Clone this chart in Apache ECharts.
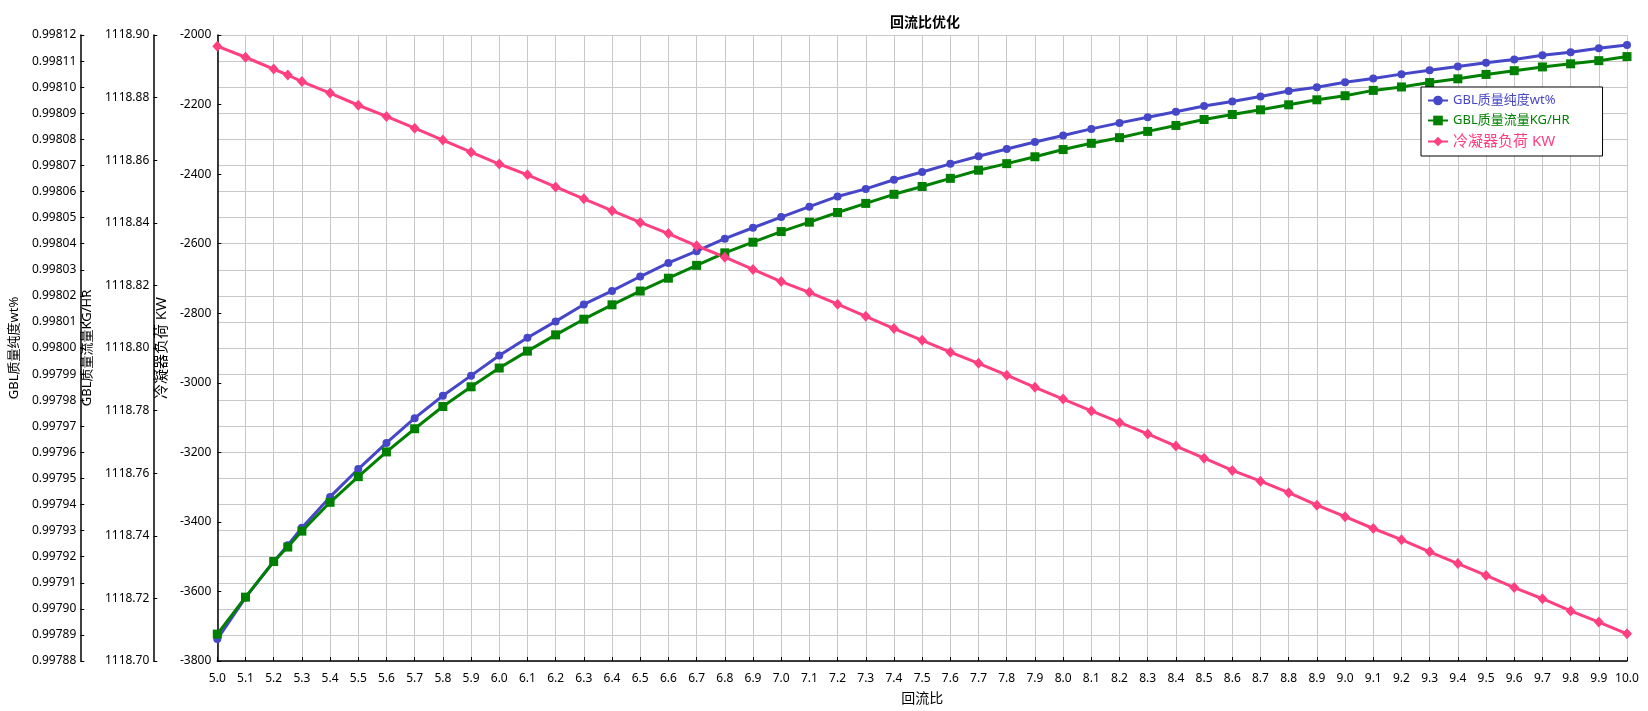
<!DOCTYPE html>
<html>
<head>
<meta charset="utf-8">
<script src="https://cdn.jsdelivr.net/npm/echarts@6/dist/echarts.min.js"></script>
<style>
html,body{margin:0;padding:0;background:#fff;}
#chart{width:1648px;height:711px;}
</style>
</head>
<body>
<div id="chart"></div>
<script>
const refluxRatio = [5.0,5.1,5.2,5.25,5.3,5.4,5.5,5.6,5.7,5.8,5.9,6.0,6.1,6.2,6.3,6.4,6.5,6.6,6.7,6.8,6.9,7.0,7.1,7.2,7.3,7.4,7.5,7.6,7.7,7.8,7.9,8.0,8.1,8.2,8.3,8.4,8.5,8.6,8.7,8.8,8.9,9.0,9.1,9.2,9.3,9.4,9.5,9.6,9.7,9.8,9.9,10.0];
const purity = [0.9978884,0.9979043,0.9979181,0.9979244,0.9979311,0.9979429,0.9979536,0.9979636,0.9979731,0.9979817,0.9979894,0.9979971,0.9980039,0.9980102,0.9980167,0.9980219,0.9980274,0.9980326,0.9980371,0.9980419,0.9980461,0.9980502,0.9980542,0.9980581,0.9980610,0.9980645,0.9980675,0.9980706,0.9980735,0.9980763,0.9980790,0.9980815,0.9980840,0.9980863,0.9980885,0.9980906,0.9980928,0.9980945,0.9980964,0.9980985,0.9981000,0.9981019,0.9981033,0.9981050,0.9981065,0.9981079,0.9981094,0.9981106,0.9981122,0.9981134,0.9981149,0.9981162];
const massFlow = [1118.7086,1118.7204,1118.7318,1118.7364,1118.7415,1118.7507,1118.7589,1118.7668,1118.7742,1118.7813,1118.7876,1118.7936,1118.7990,1118.8042,1118.8092,1118.8138,1118.8182,1118.8223,1118.8264,1118.8304,1118.8338,1118.8372,1118.8402,1118.8433,1118.8462,1118.8491,1118.8516,1118.8542,1118.8568,1118.8589,1118.8611,1118.8634,1118.8654,1118.8672,1118.8692,1118.8711,1118.8730,1118.8746,1118.8761,1118.8777,1118.8793,1118.8806,1118.8823,1118.8834,1118.8848,1118.8860,1118.8874,1118.8886,1118.8898,1118.8908,1118.8918,1118.8931];
const condenserDuty = [-2032,-2064,-2098,-2115,-2134,-2167,-2202,-2234,-2268,-2302,-2337,-2371,-2402,-2437,-2471,-2505,-2539,-2571,-2606,-2639,-2674,-2709,-2740,-2774,-2809,-2844,-2878,-2912,-2944,-2978,-3013,-3047,-3081,-3114,-3147,-3182,-3217,-3252,-3283,-3316,-3352,-3385,-3419,-3451,-3486,-3520,-3554,-3589,-3621,-3656,-3688,-3722];
const seriesNames = ['GBL质量纯度wt%','GBL质量流量KG/HR','冷凝器负荷 KW'];
const colors = ['#4646C8','#008000','#FF4080'];

const pair = arr => refluxRatio.map((x,i)=>[x,arr[i]]);
const FONT = "'Noto Sans','Noto Sans CJK SC',sans-serif";
const chart = echarts.init(document.getElementById('chart'));
chart.setOption({
  animation:false,
  backgroundColor:'#fff',
  textStyle:{fontFamily:FONT},
  title:{text:'回流比优化',left:920,top:11,textAlign:'center',
    textStyle:{fontSize:14,fontWeight:'bold',color:'#000',fontFamily:FONT}},
  grid:{left:214,right:21,top:35,bottom:48,containLabel:false},
  legend:{
    orient:'vertical',left:1421,top:87,
    backgroundColor:'#fff',borderColor:'#000',borderWidth:1,borderRadius:0,
    padding:[7,33,7,6],itemGap:7,itemWidth:20,itemHeight:12,
    data:[
      {name:seriesNames[0],textStyle:{color:colors[0],fontSize:13}},
      {name:seriesNames[1],textStyle:{color:colors[1],fontSize:13}},
      {name:seriesNames[2],textStyle:{color:colors[2],fontSize:15}}
    ]
  },
  xAxis:{
    type:'value',min:5,max:10,interval:0.1,
    name:'回流比',nameLocation:'middle',nameGap:31,
    nameTextStyle:{fontSize:14,color:'#000'},
    axisLine:{show:true,lineStyle:{color:'#000',width:1.5}},
    axisTick:{show:true,inside:true,length:4,lineStyle:{color:'#000'}},
    axisLabel:{color:'#000',fontSize:12,margin:12,formatter:v=>v.toFixed(1)},
    splitLine:{show:true,lineStyle:{color:'#c8c8c8',width:1}}
  },
  yAxis:[
    {
      type:'value',position:'left',offset:137,min:0.99788,max:0.99812,interval:0.00001,
      name:seriesNames[0],nameLocation:'middle',nameGap:49,
      nameTextStyle:{fontSize:13,color:'#000'},
      axisLine:{show:true,lineStyle:{color:'#000',width:1.5}},
      axisTick:{show:true,inside:true,length:4,lineStyle:{color:'#000'}},
      axisLabel:{color:'#000',fontSize:12,margin:4,formatter:v=>v.toFixed(5)},
      splitLine:{show:true,lineStyle:{color:'#c8c8c8',width:1}}
    },
    {
      type:'value',position:'left',offset:64,min:1118.70,max:1118.90,interval:0.02,
      name:seriesNames[1],nameLocation:'middle',nameGap:46,
      nameTextStyle:{fontSize:13,color:'#000'},
      axisLine:{show:true,lineStyle:{color:'#000',width:1.5}},
      axisTick:{show:true,inside:true,length:4,lineStyle:{color:'#000'}},
      axisLabel:{color:'#000',fontSize:12,margin:4,formatter:v=>v.toFixed(2)},
      splitLine:{show:false}
    },
    {
      type:'value',position:'left',offset:0,min:-3800,max:-2000,interval:200,
      name:seriesNames[2],nameLocation:'middle',nameGap:36,
      nameTextStyle:{fontSize:15,color:'#000'},
      axisLine:{show:true,lineStyle:{color:'#000',width:1.5}},
      axisTick:{show:true,inside:true,length:4,lineStyle:{color:'#000'}},
      axisLabel:{color:'#000',fontSize:12,margin:6,formatter:v=>String(v)},
      splitLine:{show:false}
    }
  ],
  series:[
    {name:seriesNames[0],type:'line',yAxisIndex:0,data:pair(purity),
      symbol:'circle',symbolSize:8,showAllSymbol:true,
      lineStyle:{color:colors[0],width:3},itemStyle:{color:colors[0]}},
    {name:seriesNames[1],type:'line',yAxisIndex:1,data:pair(massFlow),
      symbol:'rect',symbolSize:9,showAllSymbol:true,
      lineStyle:{color:colors[1],width:3},itemStyle:{color:colors[1]}},
    {name:seriesNames[2],type:'line',yAxisIndex:2,data:pair(condenserDuty),
      symbol:'diamond',symbolSize:[10,11],showAllSymbol:true,
      lineStyle:{color:colors[2],width:3},itemStyle:{color:colors[2]}}
  ]
});
</script>
</body>
</html>
